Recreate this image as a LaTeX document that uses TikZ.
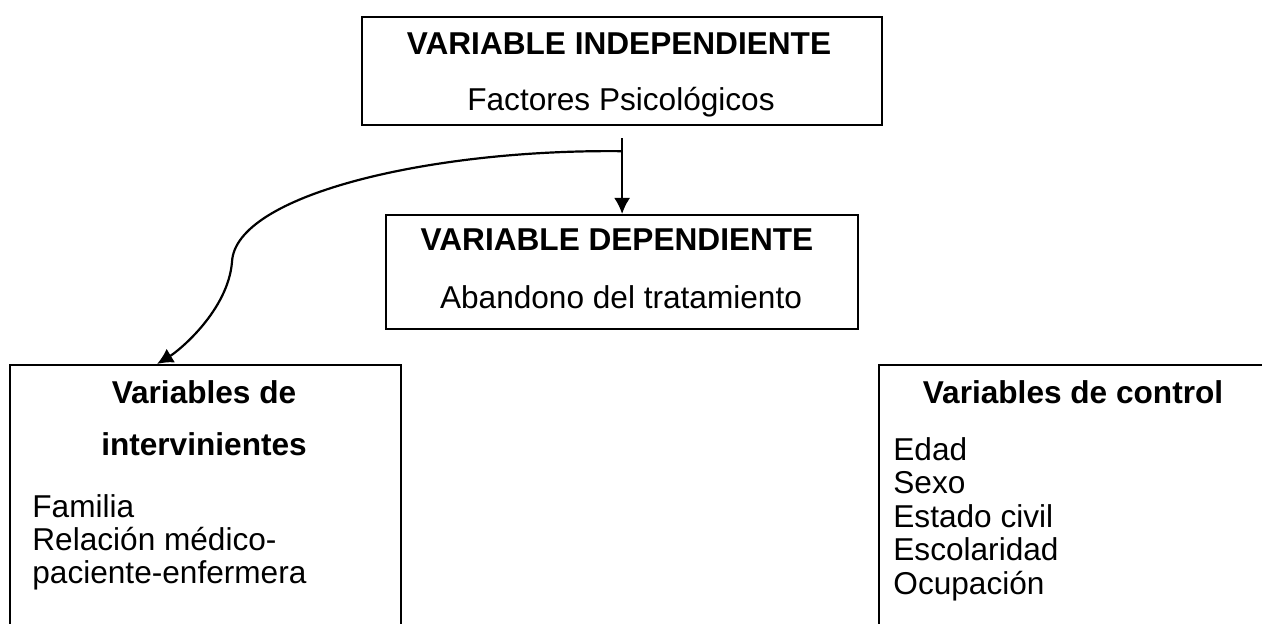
\documentclass[tikz,border=0pt]{standalone}
\usepackage{fontspec}
\setmainfont{Liberation Sans}
\usetikzlibrary{positioning, arrows.meta}

\tikzset{
  caja/.style={draw, line width=1.1pt, anchor=north west, inner sep=0pt},
  titulo/.style={font=\fontsize{15.8}{19}\selectfont\bfseries, anchor=base, inner sep=0pt},
  texto/.style={font=\fontsize{15.8}{19}\selectfont, anchor=base, inner sep=0pt},
  item/.style={font=\fontsize{15.8}{19}\selectfont, anchor=base west, inner sep=0pt},
  flecha/.style={-{Latex[length=8pt,width=8pt]}, line width=1.1pt}
}

\begin{document}
\begin{tikzpicture}[x=0.5pt,y=-0.5pt]

   \clip (0,0) rectangle (1262,624);

   % cajas
   \node[caja, minimum width=260pt, minimum height=54pt] (indep) at (361,16) {};
   \node[caja, minimum width=236pt, minimum height=57pt] (dep) at (385,214) {};
   \node[caja, minimum width=195.5pt, minimum height=140pt] (interv) at (9,364) {};
   \node[caja, minimum width=205pt, minimum height=140pt] (control) at (878,364) {};

   % textos
   \node[titulo] (indep_t) at (619,55) {VARIABLE INDEPENDIENTE};
   \node[texto] (indep_s) at (621,111) {Factores Psicológicos};
   \node[titulo] (dep_t) at (617,251) {VARIABLE DEPENDIENTE};
   \node[texto] (dep_s) at (621,309) {Abandono del tratamiento};

   \node[titulo] (interv_t1) at (204,404) {Variables de};
   \node[titulo] (interv_t2) at (204,456) {intervinientes};
   \node[item] (interv_a) at (32,517) {Familia};
   \node[item] (interv_b) at (32,550) {Relación médico-};
   \node[item] (interv_c) at (32,583) {paciente-enfermera};

   \node[titulo] (control_t) at (1073,404) {Variables de control};
   \foreach \nom [count=\i from 0] in {Edad, Sexo, Estado civil, Escolaridad, Ocupación}
      \node[item] (control_\i) at (893,460+33.5*\i) {\nom};

   % flechas
   \coordinate (rama) at ([yshift=-12.5pt]indep.south);
   \draw[flecha] ([yshift=-6pt]indep.south) -- (dep.north);
   \draw[flecha] (rama) .. controls (430,149) and (235,195) .. (232,262)
                        .. controls (228,310) and (180,350) .. ([xshift=74pt]interv.north west);

\end{tikzpicture}
\end{document}
